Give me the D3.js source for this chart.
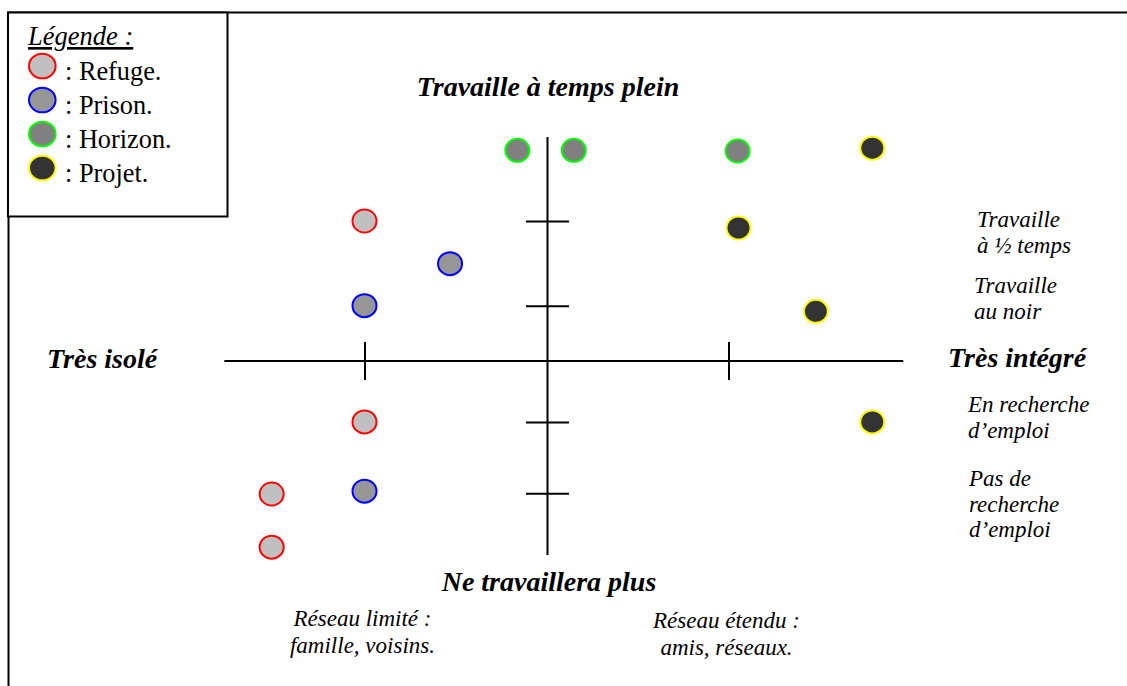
<!DOCTYPE html>
<html>
<head>
<meta charset="utf-8">
<script src="https://cdn.jsdelivr.net/npm/d3@7/dist/d3.min.js"></script>
<style>
  html, body { margin: 0; padding: 0; background: #fff; }
  svg { display: block; }
</style>
</head>
<body>
<svg id="chart" width="1127" height="686"></svg>
<script>
// ---------- DATA ----------
const seriesNames = ["Refuge", "Prison", "Horizon", "Projet"];
// x: integration level (-2 very isolated .. +2 very integrated)
// y: employment situation (+3 full-time .. -3 will not work anymore)
const refugeX  = [-1.0, -1.0, -1.51, -1.51];
const refugeY  = [2.0, -0.87, -1.9, -2.66];
const prisonX  = [-0.53, -1.0, -1.0];
const prisonY  = [1.39, 0.79, -1.86];
const horizonX = [-0.16, 0.15, 1.05];
const horizonY = [3.01, 3.01, 3.0];
const projetX  = [1.79, 1.055, 1.48, 1.79];
const projetY  = [3.04, 1.9, 0.71, -0.87];

const xTicks = [-1, 1];
const yTicks = [2.0, 0.79, -0.87, -1.89];
const xAxisExtent = [-1.77, 1.96];
const yAxisExtent = [3.2, -2.77];

const topLabel = "Travaille à temps plein";
const bottomLabel = "Ne travaillera plus";
const leftLabel = "Très isolé";
const rightLabel = "Très intégré";
const yTickLabels = [
  ["Travaille", "à ½ temps"],
  ["Travaille", "au noir"],
  ["En recherche", "d’emploi"],
  ["Pas de", "recherche", "d’emploi"]
];
const xTickLabels = [
  ["Réseau limité :", "famille, voisins."],
  ["Réseau étendu :", "amis, réseaux."]
];
const legendTitle = "Légende :";

// ---------- STYLE ----------
const strokeCol = d3.scaleOrdinal().domain(seriesNames).range(["#ff0000", "#0000ff", "#00ff00", "#ffff00"]);
const fillCol   = d3.scaleOrdinal().domain(seriesNames).range(["#c0c0c0", "#969696", "#808080", "#333333"]);
const FONT = "Liberation Serif";

const svg = d3.select("#chart");

const x = d3.scaleLinear().domain([-2, 2]).range([182.5, 910.5]);
const y = d3.scaleLinear().domain([-3, 3]).range([571, 151]);

// outer frame (extends beyond page on right / bottom)
svg.append("rect")
  .attr("x", 8.5).attr("y", 12.5).attr("width", 1300).attr("height", 900)
  .attr("fill", "none").attr("stroke", "#000").attr("stroke-width", 2);

// ---------- AXES ----------
const g = svg.append("g");
g.append("line")
  .attr("x1", x(xAxisExtent[0])).attr("x2", x(xAxisExtent[1]))
  .attr("y1", y(0)).attr("y2", y(0))
  .attr("stroke", "#000").attr("stroke-width", 2);
g.append("line")
  .attr("x1", x(0) + 1).attr("x2", x(0) + 1)
  .attr("y1", y(yAxisExtent[0])).attr("y2", y(yAxisExtent[1]))
  .attr("stroke", "#000").attr("stroke-width", 2);

const xAxisG = g.append("g")
  .attr("transform", `translate(0,${y(0)})`)
  .call(d3.axisBottom(x).tickValues(xTicks).tickFormat("").tickSize(38).tickSizeOuter(0));
xAxisG.select(".domain").remove();
xAxisG.selectAll(".tick line")
  .attr("y1", -19).attr("y2", 19)
  .attr("stroke", "#000").attr("stroke-width", 2);
xAxisG.selectAll(".tick text").remove();

const yAxisG = g.append("g")
  .attr("transform", `translate(${x(0) + 1},0)`)
  .call(d3.axisLeft(y).tickValues(yTicks).tickFormat("").tickSize(43).tickSizeOuter(0));
yAxisG.select(".domain").remove();
yAxisG.selectAll(".tick line")
  .attr("x1", -21.5).attr("x2", 21.5)
  .attr("stroke", "#000").attr("stroke-width", 2);
yAxisG.selectAll(".tick text").remove();

// ---------- POINTS ----------
const allSeries = [
  { name: "Refuge",  xs: refugeX,  ys: refugeY },
  { name: "Prison",  xs: prisonX,  ys: prisonY },
  { name: "Horizon", xs: horizonX, ys: horizonY },
  { name: "Projet",  xs: projetX,  ys: projetY }
];
allSeries.forEach(s => {
  const pts = s.xs.map((v, i) => ({ x: v, y: s.ys[i] }));
  g.append("g").selectAll("ellipse").data(pts).join("ellipse")
    .attr("cx", d => x(d.x)).attr("cy", d => y(d.y))
    .attr("rx", 12).attr("ry", 11.5)
    .attr("fill", fillCol(s.name))
    .attr("stroke", strokeCol(s.name))
    .attr("stroke-width", 2);
});

// ---------- LABELS ----------
function multiLine(sel, lines, lh) {
  lines.forEach((t, i) => {
    sel.append("tspan").attr("x", sel.attr("x")).attr("dy", i === 0 ? 0 : lh).text(t);
  });
}
function boldLabel(tx, ty, anchor, txt) {
  svg.append("text").attr("x", tx).attr("y", ty)
    .attr("text-anchor", anchor).attr("font-family", FONT).attr("font-size", 28)
    .attr("font-weight", "bold").attr("font-style", "italic").attr("fill", "#000").text(txt);
}
boldLabel(548, 96, "middle", topLabel);
boldLabel(549, 591, "middle", bottomLabel);
boldLabel(47, 368, "start", leftLabel);
boldLabel(948, 367, "start", rightLabel);

const yLabelLayout = [
  { x: 977, y: 227 },
  { x: 974, y: 293 },
  { x: 968, y: 412 },
  { x: 969, y: 486 }
];
yTickLabels.forEach((lines, i) => {
  const t = svg.append("text")
    .attr("x", yLabelLayout[i].x).attr("y", yLabelLayout[i].y)
    .attr("font-family", FONT).attr("font-size", 23).attr("font-style", "italic");
  multiLine(t, lines, 25.7);
});

const xLabelBase = [626, 628];
xTickLabels.forEach((lines, i) => {
  const t = svg.append("text")
    .attr("x", x(xTicks[i]) - 2).attr("y", xLabelBase[i])
    .attr("text-anchor", "middle")
    .attr("font-family", FONT).attr("font-size", 23).attr("font-style", "italic");
  multiLine(t, lines, 27);
});

// ---------- LEGEND ----------
const lg = svg.append("g");
lg.append("rect")
  .attr("x", 8).attr("y", 12.5).attr("width", 219.5).attr("height", 204)
  .attr("fill", "#fff").attr("stroke", "#000").attr("stroke-width", 2);
lg.append("text").attr("x", 28).attr("y", 45)
  .attr("font-family", FONT).attr("font-size", 26.5).attr("font-style", "italic")
  .attr("text-decoration", "underline").text(legendTitle);
seriesNames.forEach((name, i) => {
  lg.append("ellipse")
    .attr("cx", 42.3).attr("cy", 66 + i * 34)
    .attr("rx", 13.3).attr("ry", 12.3)
    .attr("fill", fillCol(name)).attr("stroke", strokeCol(name)).attr("stroke-width", 2);
  lg.append("text").attr("x", 65).attr("y", 80 + i * 34)
    .attr("font-family", FONT).attr("font-size", 26.3).text(": " + name + ".");
});
</script>
</body>
</html>
